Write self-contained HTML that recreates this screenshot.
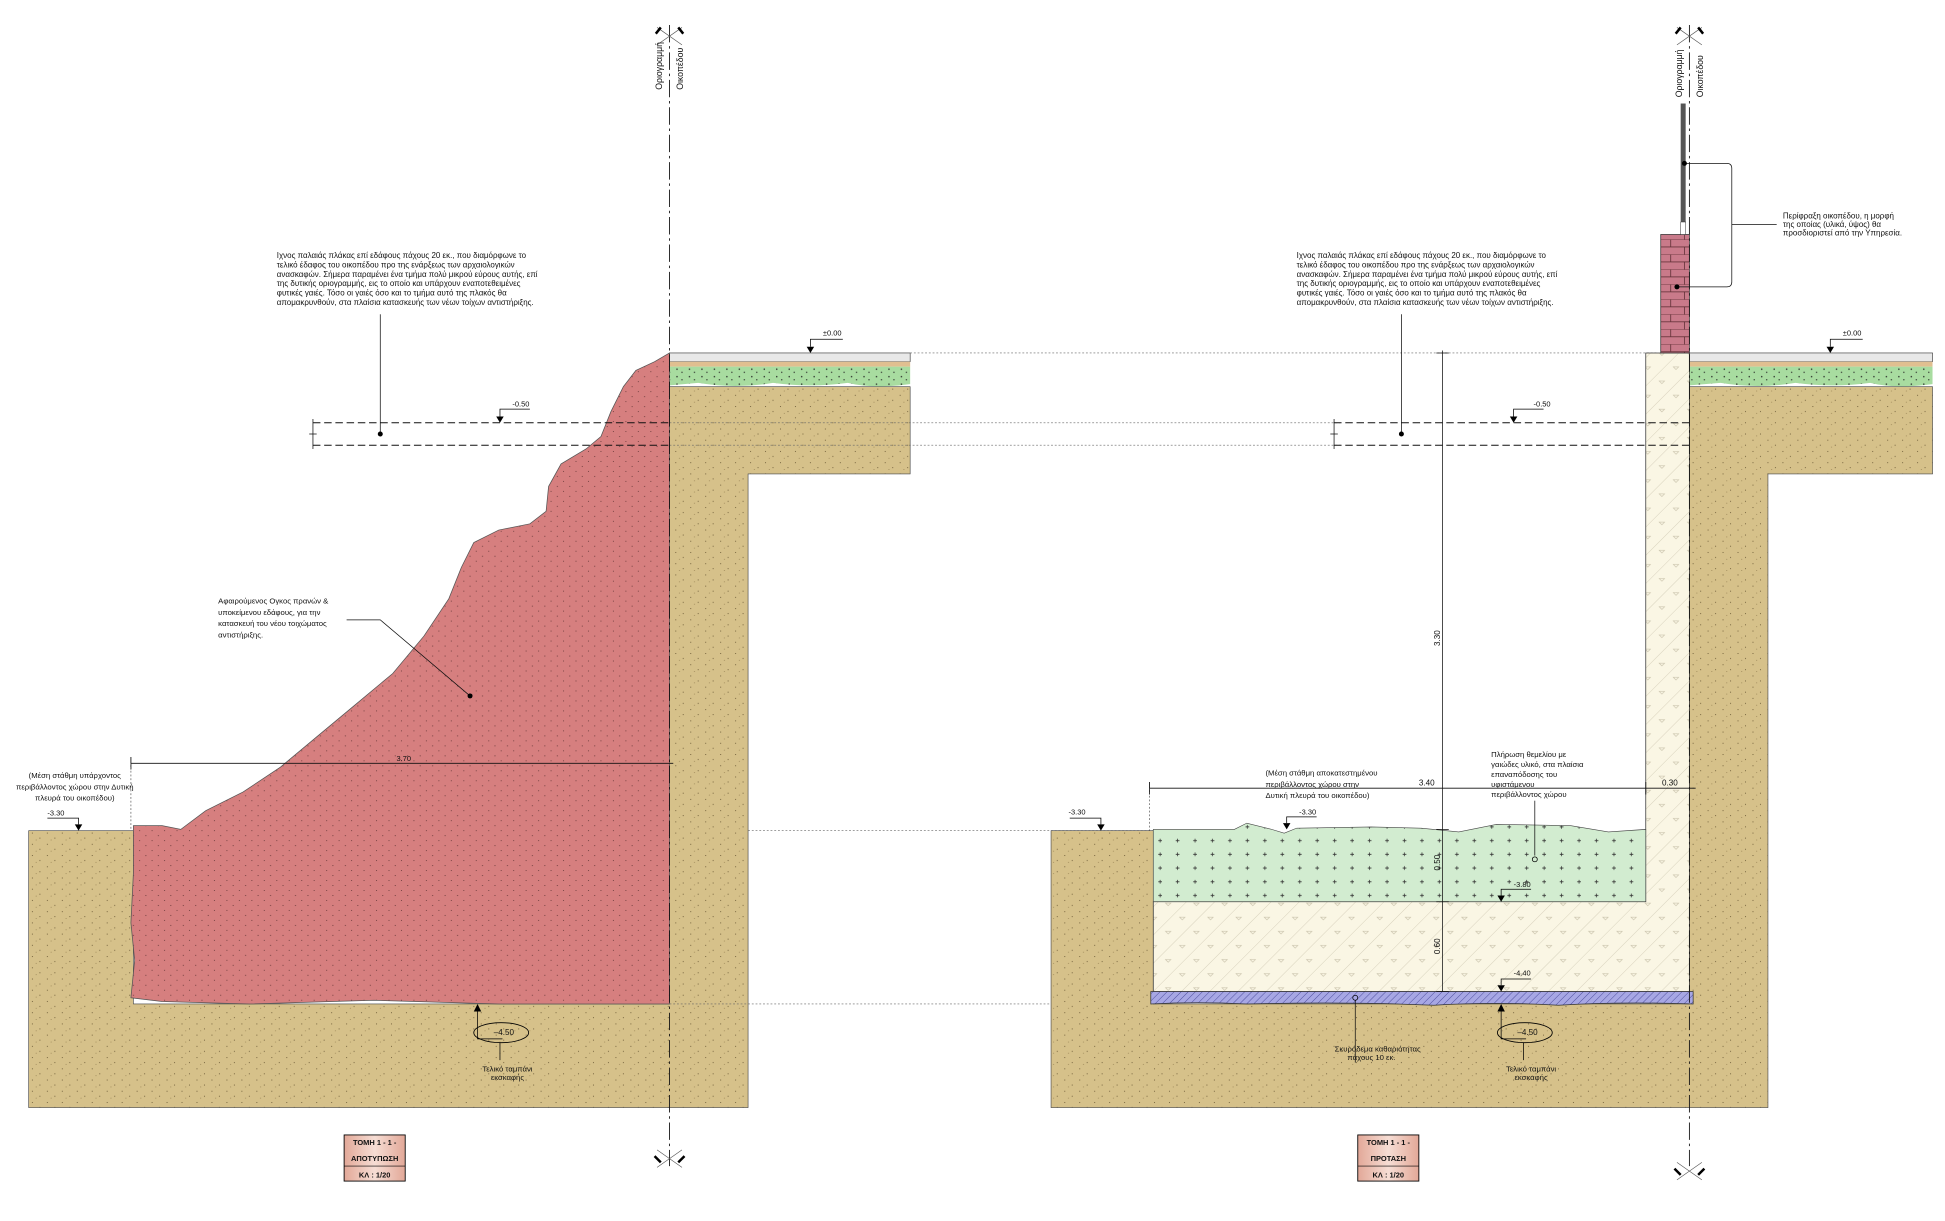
<!DOCTYPE html>
<html><head><meta charset="utf-8"><style>
html,body{margin:0;padding:0;background:#fff;}
svg{display:block;}
text{font-family:"Liberation Sans","DejaVu Sans",sans-serif;fill:#111;}
</style></head><body>
<svg width="1945" height="1221" viewBox="0 0 1560 979" preserveAspectRatio="none" xmlns="http://www.w3.org/2000/svg">
<defs>
<pattern id="soil" width="12" height="9" patternUnits="userSpaceOnUse">
<rect width="12" height="9" fill="#d6c18a"/>
<circle cx="2" cy="2" r="0.45" fill="#6b5a36"/><circle cx="8" cy="6" r="0.45" fill="#6b5a36"/><circle cx="5" cy="7.5" r="0.35" fill="#8a7548"/>
</pattern>
<pattern id="red" width="10" height="8" patternUnits="userSpaceOnUse">
<rect width="10" height="8" fill="#d67f7f"/>
<circle cx="2" cy="2" r="0.45" fill="#6a3a3a"/><circle cx="7" cy="6" r="0.45" fill="#6a3a3a"/>
</pattern>
<pattern id="green" width="14" height="11" patternUnits="userSpaceOnUse">
<rect width="14" height="11" fill="#d2ecd0"/>
<path d="M5 3h3M6.5 1.5v3" stroke="#333" stroke-width="0.6"/>
</pattern>
<pattern id="conc" width="16" height="16" patternUnits="userSpaceOnUse" patternTransform="rotate(-45)">
<rect width="16" height="16" fill="#faf6e4"/>
<line x1="0" y1="0" x2="16" y2="0" stroke="#d8d2bd" stroke-width="0.8"/>
<path d="M5 8l3 0l-3 -3z" fill="none" stroke="#c9c2ab" stroke-width="0.5"/>
</pattern>
<pattern id="blue" width="4" height="4" patternUnits="userSpaceOnUse" patternTransform="rotate(45)">
<rect width="4" height="4" fill="#a7a7e4"/><line x1="0" y1="0" x2="0" y2="4" stroke="#5050a0" stroke-width="0.8"/>
</pattern>
<pattern id="grass" width="10" height="6" patternUnits="userSpaceOnUse">
<rect width="10" height="6" fill="#a8dca0"/><circle cx="3" cy="2" r="0.6" fill="#222"/><circle cx="7" cy="4.5" r="0.5" fill="#222"/>
</pattern>
<pattern id="brick" width="23" height="12" patternUnits="userSpaceOnUse">
<rect width="23" height="12" fill="#c97a8a"/>
<path d="M0 0h23M0 6h23M6 0v6M17 6v6" stroke="#5a2a30" stroke-width="0.6"/>
</pattern>
<linearGradient id="tb" x1="0" y1="0" x2="1" y2="0"><stop offset="0" stop-color="#e2a898"/><stop offset=".5" stop-color="#f6ddd4"/><stop offset="1" stop-color="#e2a898"/></linearGradient>
</defs>

<!-- ============ LEFT SECTION ============ -->
<path d="M537 310 L730 310 L730 380 L600 380 L600 888 L23 888 L23 666 L107 666 L107 805 L537 805 Z" fill="url(#soil)" stroke="#444" stroke-width="0.5"/>
<rect x="537" y="283" width="193" height="7" fill="#e8e8e8" stroke="#333" stroke-width="0.5"/>
<rect x="537" y="290" width="193" height="4" fill="#e0bf90"/>
<path d="M537 294 L730 294 L730 308 Q700 312 680 307 Q650 311 620 307 Q590 312 560 307 L537 309 Z" fill="url(#grass)"/>
<path d="M537 283 L525 290 L510 297 L500 310 L490 330 L482 350 L470 360 L450 372 L440 390 L438 410 L425 420 L400 425 L380 435 L370 455 L360 480 L340 510 L315 540 L285 565 L255 590 L225 615 L195 635 L165 650 L145 665 L130 662 L107 662 L107 700 L105 740 L108 770 L105 800 L130 803 L200 805 L300 802 L400 805 L537 805 Z" fill="url(#red)" stroke="#555" stroke-width="0.6"/>
<path d="M251 339 H537 M251 357 H537" stroke="#111" stroke-width="0.8" stroke-dasharray="6 3"/>
<path d="M251 336v24M248 348h6" stroke="#111" stroke-width="0.6"/>
<path d="M730 283 H1330 M537 339 H1075 M537 357 H1075 M600 666 H925 M537 805 H925" stroke="#666" stroke-width="0.5" stroke-dasharray="1.5 1.5"/>
<path d="M537 20 V935" stroke="#111" stroke-width="0.7" stroke-dasharray="14 3 2 3"/>
<path d="M527 22 L547 36 M547 22 L527 36" stroke="#555" stroke-width="0.5" fill="none"/>
<path d="M526 27 L530 22 M544 22 L548 27" stroke="#000" stroke-width="2"/>
<path d="M527 922 L547 936 M547 922 L527 936" stroke="#555" stroke-width="0.5" fill="none"/>
<path d="M525 927 L530 932 M544 932 L549 927" stroke="#000" stroke-width="2"/>
<text transform="translate(531,72) rotate(-90)" font-size="7">Οριογραμμή</text>
<text transform="translate(548,72) rotate(-90)" font-size="7">Οικοπέδου</text>
<g font-size="6.4">
<text x="222" y="207">Ιχνος παλαιάς πλάκας επί εδάφους πάχους 20 εκ., που διαμόρφωνε το</text>
<text x="222" y="214.5">τελικό έδαφος του οικοπέδου προ της ενάρξεως των αρχαιολογικών</text>
<text x="222" y="222">ανασκαφών. Σήμερα παραμένει ένα τμήμα πολύ μικρού εύρους αυτής, επί</text>
<text x="222" y="229.5">της δυτικής οριογραμμής, εις το οποίο και υπάρχουν εναποτεθειμένες</text>
<text x="222" y="237">φυτικές γαιές. Τόσο οι γαιές όσο και το τμήμα αυτό της πλακός θα</text>
<text x="222" y="244.5">απομακρυνθούν, στα πλαίσια κατασκευής των νέων τοίχων αντιστήριξης.</text>
</g>
<path d="M305 252 V348" stroke="#111" stroke-width="0.6"/><circle cx="305" cy="348" r="2" fill="#000"/>
<path d="M401 339 l-3 -5 h6 z" fill="#000"/><path d="M401 334 v-6 h24" stroke="#000" stroke-width="0.6" fill="none"/>
<text x="411" y="326" font-size="6">-0.50</text>
<path d="M650 283 l-3 -5 h6 z" fill="#000"/><path d="M650 278 v-6 h26" stroke="#000" stroke-width="0.6" fill="none"/>
<text x="660" y="269" font-size="6">±0.00</text>
<g font-size="6.2">
<text x="175" y="484">Αφαιρούμενος Ογκος πρανών &amp;</text>
<text x="175" y="493">υποκείμενου εδάφους, για την</text>
<text x="175" y="502">κατασκευή του νέου τοιχώματος</text>
<text x="175" y="511">αντιστήριξης.</text>
</g>
<path d="M278 497 H305 L377 558" stroke="#111" stroke-width="0.6" fill="none"/><circle cx="377" cy="558" r="2" fill="#000"/>
<path d="M105 612 H540 M105 607v10" stroke="#111" stroke-width="0.7"/>
<text x="318" y="610" font-size="6">3.70</text>
<path d="M105 612 V666" stroke="#444" stroke-width="0.5" stroke-dasharray="1.5 1.5"/>
<g font-size="6.2">
<text x="60" y="624" text-anchor="middle">(Μέση στάθμη υπάρχοντος</text>
<text x="60" y="633" text-anchor="middle">περιβάλλοντος χώρου στην Δυτική</text>
<text x="60" y="642" text-anchor="middle">πλευρά του οικοπέδου)</text>
</g>
<path d="M63 666 l-3 -5 h6 z" fill="#000"/><path d="M63 661 v-5 h-25" stroke="#000" stroke-width="0.6" fill="none"/>
<text x="38" y="654" font-size="6">-3.30</text>
<path d="M383 805 l-3 6 h6 z" fill="#000"/><path d="M383 811 v22 h20" stroke="#000" stroke-width="0.6" fill="none"/>
<ellipse cx="402" cy="828" rx="22" ry="8" fill="none" stroke="#000" stroke-width="0.7"/>
<text x="396" y="830" font-size="6.5">–4.50</text>
<path d="M401 836 V850" stroke="#000" stroke-width="0.6"/>
<text x="407" y="859" font-size="6.2" text-anchor="middle">Τελικό ταμπάνι</text>
<text x="407" y="866" font-size="6.2" text-anchor="middle">εκσκαφής</text>
<rect x="276" y="910" width="49" height="37" fill="url(#tb)" stroke="#000" stroke-width="0.7"/>
<line x1="276" y1="935" x2="325" y2="935" stroke="#000" stroke-width="0.5"/>
<g font-size="6" font-weight="bold" text-anchor="middle">
<text x="300.5" y="918">ΤΟΜΗ 1 - 1 -</text><text x="300.5" y="931">ΑΠΟΤΥΠΩΣΗ</text><text x="300.5" y="944">ΚΛ : 1/20</text></g>

<!-- ============ RIGHT SECTION ============ -->
<path d="M1355 310 L1550 310 L1550 380 L1418 380 L1418 888 L843 888 L843 666 L925 666 L925 805 L1355 805 Z" fill="url(#soil)" stroke="#444" stroke-width="0.5"/>
<rect x="1355" y="283" width="195" height="7" fill="#e8e8e8" stroke="#333" stroke-width="0.5"/>
<rect x="1355" y="290" width="195" height="4" fill="#e0bf90"/>
<path d="M1355 294 L1550 294 L1550 308 Q1520 312 1500 307 Q1470 311 1440 307 Q1410 312 1380 307 L1355 309 Z" fill="url(#grass)"/>
<path d="M1320 283 H1355 V795 H925 V723 H1320 Z" fill="url(#conc)" stroke="#333" stroke-width="0.6"/>
<path d="M925 665 L990 665 L1000 660 L1020 665 L1030 668 L1040 664 L1100 663 L1140 664 L1170 667 L1200 661 L1260 662 L1290 667 L1320 665 L1320 723 L925 723 Z" fill="url(#green)" stroke="#444" stroke-width="0.5"/>
<path d="M923 795 H1358 V805 Q1300 803 1250 806 Q1200 803 1150 806 Q1080 803 1000 805 Q960 803 923 805 Z" fill="url(#blue)" stroke="#333" stroke-width="0.6"/>
<rect x="1332" y="188" width="23" height="95" fill="url(#brick)" stroke="#333" stroke-width="0.6"/>
<rect x="1348" y="83" width="4" height="95" fill="#555"/>
<rect x="1348" y="178" width="4" height="10" fill="#fff" stroke="#333" stroke-width="0.4"/>
<path d="M1351 131 H1385 q4 0 4 4 V226 q0 4 -4 4 H1345 M1389 180 H1425" stroke="#111" stroke-width="0.6" fill="none"/>
<circle cx="1351" cy="131" r="2" fill="#000"/><circle cx="1345" cy="230" r="2" fill="#000"/>
<g font-size="6.4"><text x="1430" y="175">Περίφραξη οικοπέδου, η μορφή</text><text x="1430" y="182">της οποίας (υλικά, ύψος) θα</text><text x="1430" y="189">προσδιοριστεί από την Υπηρεσία.</text></g>
<path d="M1355 20 V935" stroke="#111" stroke-width="0.7" stroke-dasharray="14 3 2 3"/>
<path d="M1345 22 L1365 36 M1365 22 L1345 36" stroke="#555" stroke-width="0.5" fill="none"/>
<path d="M1344 27 L1348 22 M1362 22 L1366 27" stroke="#000" stroke-width="2"/>
<path d="M1345 932 L1365 946 M1365 932 L1345 946" stroke="#555" stroke-width="0.5" fill="none"/>
<path d="M1343 937 L1348 942 M1362 942 L1367 937" stroke="#000" stroke-width="2"/>
<text transform="translate(1349,78) rotate(-90)" font-size="7">Οριογραμμή</text>
<text transform="translate(1366,78) rotate(-90)" font-size="7">Οικοπέδου</text>
<g font-size="6.4">
<text x="1040" y="207">Ιχνος παλαιάς πλάκας επί εδάφους πάχους 20 εκ., που διαμόρφωνε το</text>
<text x="1040" y="214.5">τελικό έδαφος του οικοπέδου προ της ενάρξεως των αρχαιολογικών</text>
<text x="1040" y="222">ανασκαφών. Σήμερα παραμένει ένα τμήμα πολύ μικρού εύρους αυτής, επί</text>
<text x="1040" y="229.5">της δυτικής οριογραμμής, εις το οποίο και υπάρχουν εναποτεθειμένες</text>
<text x="1040" y="237">φυτικές γαιές. Τόσο οι γαιές όσο και το τμήμα αυτό της πλακός θα</text>
<text x="1040" y="244.5">απομακρυνθούν, στα πλαίσια κατασκευής των νέων τοίχων αντιστήριξης.</text>
</g>
<path d="M1124 252 V348" stroke="#111" stroke-width="0.6"/><circle cx="1124" cy="348" r="2" fill="#000"/>
<path d="M1070 339 H1355 M1070 357 H1355" stroke="#111" stroke-width="0.8" stroke-dasharray="6 3"/>
<path d="M1070 336v24M1067 348h6" stroke="#111" stroke-width="0.6"/>
<path d="M1214 339 l-3 -5 h6 z" fill="#000"/><path d="M1214 334 v-6 h24" stroke="#000" stroke-width="0.6" fill="none"/>
<text x="1230" y="326" font-size="6">-0.50</text>
<path d="M1468 283 l-3 -5 h6 z" fill="#000"/><path d="M1468 278 v-6 h26" stroke="#000" stroke-width="0.6" fill="none"/>
<text x="1478" y="269" font-size="6">±0.00</text>
<path d="M1157 281 V795 M1152 283h10 M1152 665h10 M1152 723h10 M1152 795h10" stroke="#111" stroke-width="0.6"/>
<text transform="translate(1155,518) rotate(-90)" font-size="6.5">3.30</text>
<text transform="translate(1155,698) rotate(-90)" font-size="6.5">0.50</text>
<text transform="translate(1155,765) rotate(-90)" font-size="6.5">0.60</text>
<path d="M922 632 H1360 M922 627v10 M1320 627v10" stroke="#111" stroke-width="0.7"/>
<path d="M922 632 V666" stroke="#444" stroke-width="0.5" stroke-dasharray="1.5 1.5"/>
<text x="1138" y="630" font-size="6.5">3.40</text>
<text x="1333" y="630" font-size="6.5">0.30</text>
<g font-size="6.2">
<text x="1015" y="622">(Μέση στάθμη αποκατεστημένου</text>
<text x="1015" y="631">περιβάλλοντος χώρου στην</text>
<text x="1015" y="640">Δυτική πλευρά του οικοπέδου)</text>
</g>
<g font-size="6.2">
<text x="1196" y="607">Πλήρωση θεμελίου με</text>
<text x="1196" y="615">γαιώδες υλικό, στα πλαίσια</text>
<text x="1196" y="623">επαναπόδοσης του</text>
<text x="1196" y="631">υφιστάμενου</text>
<text x="1196" y="639">περιβάλλοντος χώρου</text>
</g>
<path d="M1231 642 V686" stroke="#111" stroke-width="0.6"/><circle cx="1231" cy="689" r="2" fill="none" stroke="#000" stroke-width="0.6"/>
<path d="M1032 665 l-3 -5 h6 z" fill="#000"/><path d="M1032 660 v-5 h24" stroke="#000" stroke-width="0.6" fill="none"/>
<text x="1042" y="653" font-size="6">-3.30</text>
<path d="M883 666 l-3 -5 h6 z" fill="#000"/><path d="M883 661 v-5 h-25" stroke="#000" stroke-width="0.6" fill="none"/>
<text x="857" y="653" font-size="6">-3.30</text>
<path d="M1204 723 l-3 -5 h6 z" fill="#000"/><path d="M1204 718 v-5 h24" stroke="#000" stroke-width="0.6" fill="none"/>
<text x="1214" y="711" font-size="6">-3.80</text>
<path d="M1204 795 l-3 -5 h6 z" fill="#000"/><path d="M1204 790 v-5 h24" stroke="#000" stroke-width="0.6" fill="none"/>
<text x="1214" y="782" font-size="6">-4.40</text>
<path d="M1087 802 V852" stroke="#111" stroke-width="0.6"/><circle cx="1087" cy="800" r="2" fill="none" stroke="#000" stroke-width="0.6"/>
<text x="1105" y="843" font-size="6.2" text-anchor="middle">Σκυρόδεμα καθαριότητας</text>
<text x="1100" y="850" font-size="6.2" text-anchor="middle">πάχους 10 εκ.</text>
<path d="M1204 805 l-3 6 h6 z" fill="#000"/><path d="M1204 811 v22 h20" stroke="#000" stroke-width="0.6" fill="none"/>
<ellipse cx="1223" cy="828" rx="22" ry="8" fill="none" stroke="#000" stroke-width="0.7"/>
<text x="1217" y="830" font-size="6.5">–4.50</text>
<path d="M1222 836 V850" stroke="#000" stroke-width="0.6"/>
<text x="1228" y="859" font-size="6.2" text-anchor="middle">Τελικό ταμπάνι</text>
<text x="1228" y="866" font-size="6.2" text-anchor="middle">εκσκαφής</text>
<rect x="1089" y="910" width="49" height="37" fill="url(#tb)" stroke="#000" stroke-width="0.7"/>
<line x1="1089" y1="935" x2="1138" y2="935" stroke="#000" stroke-width="0.5"/>
<g font-size="6" font-weight="bold" text-anchor="middle">
<text x="1113.5" y="918">ΤΟΜΗ 1 - 1 -</text><text x="1113.5" y="931">ΠΡΟΤΑΣΗ</text><text x="1113.5" y="944">ΚΛ : 1/20</text></g>
</svg>
</body></html>
